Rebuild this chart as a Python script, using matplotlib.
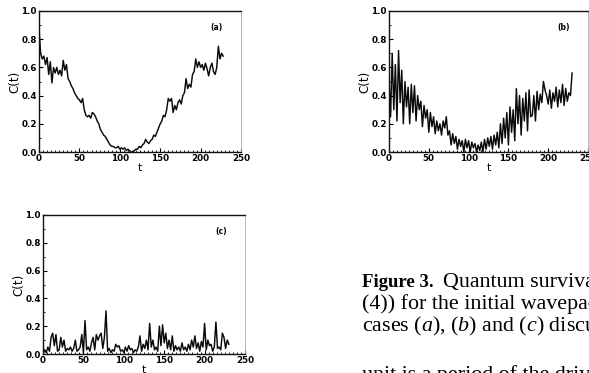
import numpy as np
import matplotlib
matplotlib.use("Agg")
import matplotlib.pyplot as plt
from matplotlib.ticker import MultipleLocator

ca = [0.88, 0.70, 0.66, 0.68, 0.62, 0.67, 0.55, 0.64, 0.49, 0.60,
      0.56, 0.60, 0.55, 0.58, 0.54, 0.65, 0.58, 0.62, 0.52, 0.50,
      0.47, 0.45, 0.42, 0.40, 0.38, 0.37, 0.35, 0.38, 0.30, 0.26,
      0.25, 0.26, 0.24, 0.28, 0.27, 0.25, 0.22, 0.20, 0.16, 0.14,
      0.12, 0.11, 0.09, 0.07, 0.05, 0.04, 0.04, 0.03, 0.03, 0.04,
      0.02, 0.03, 0.02, 0.03, 0.01, 0.02, 0.01, 0.00, 0.00, 0.01,
      0.02, 0.02, 0.04, 0.03, 0.05, 0.06, 0.09, 0.07, 0.06, 0.08,
      0.09, 0.12, 0.11, 0.14, 0.17, 0.20, 0.22, 0.26, 0.25, 0.30,
      0.38, 0.36, 0.38, 0.28, 0.33, 0.30, 0.35, 0.37, 0.34, 0.40,
      0.42, 0.52, 0.45, 0.48, 0.46, 0.55, 0.57, 0.66, 0.60, 0.64,
      0.60, 0.62, 0.58, 0.63, 0.59, 0.54, 0.60, 0.63, 0.57, 0.55,
      0.60, 0.75, 0.66, 0.70, 0.68]

cb = [0.52, 0.25, 0.70, 0.30, 0.62, 0.22, 0.72, 0.35, 0.58, 0.20,
      0.50, 0.32, 0.46, 0.20, 0.48, 0.28, 0.47, 0.22, 0.40, 0.30,
      0.36, 0.18, 0.33, 0.24, 0.30, 0.14, 0.28, 0.18, 0.25, 0.13,
      0.22, 0.15, 0.20, 0.12, 0.22, 0.17, 0.25, 0.12, 0.15, 0.05,
      0.13, 0.06, 0.11, 0.02, 0.09, 0.04, 0.08, 0.00, 0.09, 0.03,
      0.08, 0.00, 0.07, 0.03, 0.06, 0.00, 0.05, 0.01, 0.07, 0.00,
      0.09, 0.02, 0.10, 0.04, 0.11, 0.02, 0.12, 0.05, 0.14, 0.03,
      0.20, 0.06, 0.24, 0.10, 0.28, 0.05, 0.32, 0.14, 0.30, 0.08,
      0.45, 0.20, 0.40, 0.12, 0.38, 0.22, 0.42, 0.15, 0.44, 0.25,
      0.26, 0.40, 0.22, 0.43, 0.30, 0.41, 0.35, 0.50, 0.44, 0.40,
      0.34, 0.44, 0.31, 0.42, 0.36, 0.46, 0.32, 0.44, 0.35, 0.48,
      0.33, 0.45, 0.36, 0.42, 0.40, 0.56]

cc = [0.00, 0.03, 0.01, 0.05, 0.02, 0.12, 0.15, 0.06, 0.14, 0.02,
      0.03, 0.12, 0.05, 0.10, 0.02, 0.04, 0.03, 0.05, 0.02, 0.04,
      0.10, 0.02, 0.03, 0.05, 0.14, 0.01, 0.24, 0.03, 0.05, 0.02,
      0.08, 0.12, 0.03, 0.14, 0.10, 0.13, 0.15, 0.04, 0.12, 0.31,
      0.02, 0.04, 0.01, 0.03, 0.02, 0.07, 0.05, 0.06, 0.02, 0.03,
      0.01, 0.05, 0.02, 0.06, 0.03, 0.04, 0.01, 0.03, 0.02, 0.05,
      0.13, 0.02, 0.07, 0.04, 0.10, 0.03, 0.22, 0.05, 0.10, 0.03,
      0.05, 0.02, 0.20, 0.06, 0.21, 0.08, 0.15, 0.04, 0.10, 0.03,
      0.13, 0.02, 0.06, 0.03, 0.05, 0.02, 0.08, 0.03, 0.05, 0.02,
      0.07, 0.03, 0.10, 0.05, 0.13, 0.04, 0.08, 0.02, 0.09, 0.05,
      0.22, 0.03, 0.10, 0.06, 0.07, 0.02, 0.05, 0.23, 0.04, 0.05,
      0.03, 0.15, 0.12, 0.04, 0.10, 0.07]

panels = ["(a)", "(b)", "(c)"]
xticks = [0, 50, 100, 150, 200, 250]
yticks = [0.0, 0.2, 0.4, 0.6, 0.8, 1.0]

W, H = 589, 373
fig = plt.figure(figsize=(W / 100, H / 100), dpi=100)

# axes boxes in pixels: left, top, right, bottom
boxes = [(39, 11, 241, 152), (389, 11, 588, 152), (43, 215, 245, 354)]
series = [ca, cb, cc]

for (l, t, r, b), y, tag in zip(boxes, series, panels):
    ax = fig.add_axes([l / W, (H - b) / H, (r - l) / W, (b - t) / H])
    x = np.arange(len(y)) * 2
    ax.plot(x, y, color="#0a0a0a", lw=1.05)
    ax.set_xlim(0, 250)
    ax.set_ylim(0, 1.0)
    ax.set_xticks(xticks)
    ax.set_yticks(yticks)
    ax.set_yticklabels([f"{v:.1f}" for v in yticks])
    ax.xaxis.set_minor_locator(MultipleLocator(5))
    ax.yaxis.set_minor_locator(MultipleLocator(0.1))
    ax.tick_params(which="both", direction="in", labelsize=6.3, pad=1.5,
                   top=False, right=False)
    ax.tick_params(which="major", length=3, width=0.8)
    ax.tick_params(which="minor", length=1.5, width=0.6)
    for lab in ax.get_xticklabels() + ax.get_yticklabels():
        lab.set_fontweight("bold")
    for s in ["left", "top", "bottom"]:
        ax.spines[s].set_linewidth(1.0)
        ax.spines[s].set_color("#111111")
    ax.spines["right"].set_linewidth(0.6)
    ax.spines["right"].set_color("#aaaaaa")
    ax.set_ylabel("C(t)", fontsize=8.5, labelpad=0)
    ax.set_xlabel("t", fontsize=8, labelpad=0)
    ax.text(0.88, 0.88, tag, transform=ax.transAxes, fontsize=5.5,
            fontweight="bold", ha="center", va="center")

# caption, clipped by the right edge as in the scan
plt.rcParams["mathtext.fontset"] = "custom"
plt.rcParams["mathtext.rm"] = "Liberation Serif"
plt.rcParams["mathtext.it"] = "Liberation Serif:italic"
cap = dict(family="Liberation Serif", fontsize=15.8, color="black", va="baseline")
x0 = 362 / W
t1 = fig.text(x0, (H - 287) / H, "Figure 3.", fontweight="bold",
              family="Liberation Serif", fontsize=13.5, color="black", va="baseline")
fig.canvas.draw()
bb = t1.get_window_extent()
fig.text((bb.x1 + 9) / W, (H - 287) / H, "Quantum survival probability", **cap)
fig.text(x0, (H - 309) / H, "(4)) for the initial wavepacket", **cap)
fig.text(x0, (H - 331) / H, r"cases $(a)$, $(b)$ and $(c)$ discussed", **cap)
fig.text(x0, (H - 380) / H, "unit is a period of the driving", **cap)

fig.savefig("out.png", dpi=100)
